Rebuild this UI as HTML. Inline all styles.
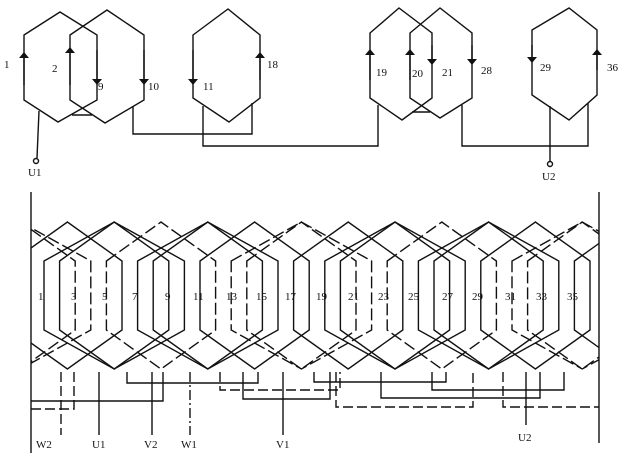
<!DOCTYPE html>
<html><head><meta charset="utf-8"><style>
html,body{margin:0;padding:0;background:#fff;}
svg{display:block;}
text{font-family:"Liberation Serif",serif;font-size:11px;fill:#111;}
</style></head><body>
<svg id="s" width="634" height="473" viewBox="0 0 634 473" xmlns="http://www.w3.org/2000/svg">
<defs>
<marker id="a" markerWidth="6" markerHeight="10" refX="3" refY="5" orient="auto-start-reverse" markerUnits="userSpaceOnUse"><path d="M0,0 L6,5 L0,10 z" fill="#111"/></marker>
<clipPath id="c"><rect x="31" y="190" width="568" height="270"/></clipPath>
</defs>
<g fill="none" stroke="#111" stroke-width="1.4">
<path d="M24,35 L60,12 L97,35 L97,100 L58,122 L24,100 Z"/>
<path d="M70,35 L107,10 L144,35 L144,100 L105,123 L70,100 Z"/>
<path d="M72,115 L92,115"/>
<path d="M193,35 L228,9 L260,35 L260,98 L229,122 L193,98 Z"/>
<path d="M370,33 L399,8 L432,33 L432,98 L402,120 L370,98 Z"/>
<path d="M410,33 L440,8 L472,33 L472,98 L440,118 L410,98 Z"/>
<path d="M412,112 L430,112"/>
<path d="M532,30 L569,8 L597,30 L597,95 L569,120 L532,95 Z"/>
<path d="M24,85 L24,55" marker-end="url(#a)"/>
<path d="M70,85 L70,50" marker-end="url(#a)"/>
<path d="M97,50 L97,82" marker-end="url(#a)"/>
<path d="M144,50 L144,82" marker-end="url(#a)"/>
<path d="M193,50 L193,82" marker-end="url(#a)"/>
<path d="M260,80 L260,55" marker-end="url(#a)"/>
<path d="M370,80 L370,52" marker-end="url(#a)"/>
<path d="M410,80 L410,52" marker-end="url(#a)"/>
<path d="M432,45 L432,62" marker-end="url(#a)"/>
<path d="M472,45 L472,62" marker-end="url(#a)"/>
<path d="M532,45 L532,60" marker-end="url(#a)"/>
<path d="M597,70 L597,52" marker-end="url(#a)"/>
<path d="M39,111 L37,158"/>
<circle cx="36" cy="161" r="2.5"/>
<path d="M133,106 L133,134 L252,134 L252,103"/>
<path d="M203,106 L203,146 L378,146 L378,105"/>
<path d="M462,105 L462,146 L588,146 L588,103"/>
<path d="M550,106 L550,161"/>
<circle cx="550" cy="164" r="2.5"/>
<path d="M31,192 L31,453"/>
<path d="M599,192 L599,443"/>
<g id="coils" clip-path="url(#c)"></g>
<path d="M127,372 L127,383 L258,383 L258,372"/>
<path d="M220,372 L220,390 L340,390 L340,372" stroke-dasharray="10,4"/>
<path d="M243,372 L243,399 L330,399 L330,372"/>
<path d="M31,401 L163,401 L163,372"/>
<path d="M31,409 L74,409 L74,372" stroke-dasharray="10,4"/>
<path d="M314,372 L314,382 L446,382 L446,372"/>
<path d="M432,372 L432,390 L564,390 L564,372"/>
<path d="M381,372 L381,398 L540,398 L540,372"/>
<path d="M336,372 L336,407 L473,407 L473,372" stroke-dasharray="10,4"/>
<path d="M503,372 L503,407 L599,407" stroke-dasharray="10,4"/>
<path d="M61,372 L61,435" stroke-dasharray="10,4"/>
<path d="M99,372 L99,435"/>
<path d="M152,372 L152,435"/>
<path d="M190,372 L190,435" stroke-dasharray="10,3,2,3"/>
<path d="M283,372 L283,435"/>
<path d="M526,372 L526,425"/>
</g>
<text x="4" y="68">1</text>
<text x="52" y="72">2</text>
<text x="98" y="90">9</text>
<text x="148" y="90">10</text>
<text x="203" y="90">11</text>
<text x="267" y="68">18</text>
<text x="376" y="76">19</text>
<text x="412" y="77">20</text>
<text x="442" y="76">21</text>
<text x="481" y="74">28</text>
<text x="540" y="71">29</text>
<text x="607" y="71">36</text>
<text x="28" y="176">U1</text>
<text x="542" y="180">U2</text>
<g>
<text x="38" y="300">1</text><text x="71" y="300">3</text><text x="102" y="300">5</text><text x="132" y="300">7</text><text x="165" y="300">9</text><text x="193" y="300">11</text><text x="226" y="300">13</text><text x="256" y="300">15</text><text x="285" y="300">17</text><text x="316" y="300">19</text><text x="348" y="300">21</text><text x="378" y="300">23</text><text x="408" y="300">25</text><text x="442" y="300">27</text><text x="472" y="300">29</text><text x="505" y="300">31</text><text x="536" y="300">33</text><text x="567" y="300">35</text>
</g>
<text x="36" y="448">W2</text>
<text x="92" y="448">U1</text>
<text x="144" y="448">V2</text>
<text x="181" y="448">W1</text>
<text x="276" y="448">V1</text>
<text x="518" y="441">U2</text>
<script>
(function(){
var g=document.getElementById('coils');var P=15.6,x0=44;
function sx(k){return x0+(k-1)*P;}
var U=[[1,10],[2,9],[11,18],[19,28],[20,27],[29,36]];
var V=[[13,22],[14,21],[23,30],[31,40],[32,39],[5,12]];
var W=[[25,34],[26,33],[35,42],[7,16],[8,15],[17,24]];
function add(list,dash){list.forEach(function(c){[0,-36,36].forEach(function(o){
var L=sx(c[0]+o),R=sx(c[1]+o),m=(L+R)/2,h=39;
var d='M'+L+',261 L'+m+','+(261-h)+' L'+R+',261 L'+R+',330 L'+m+','+(330+h)+' L'+L+',330 Z';
var p=document.createElementNS('http://www.w3.org/2000/svg','path');p.setAttribute('d',d);
if(dash)p.setAttribute('stroke-dasharray',dash);g.appendChild(p);});});}
add(U,null);add(V,'12,4');add(W,null);
})();
</script>
</svg>
</body></html>
